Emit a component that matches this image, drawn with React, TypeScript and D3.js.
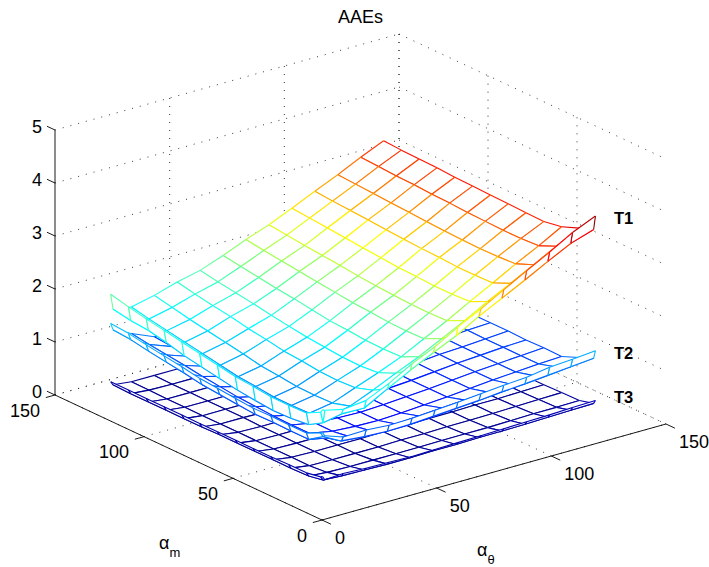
import React, { useEffect, useRef } from 'react';
import * as d3 from 'd3';

const width = 709;
const height = 567;

// grid of the three meshes
const xValues = [1, 2, 10, 20, 30, 40, 50, 60, 70, 80, 90, 100, 110, 120];
const yValues = [1, 2, 10, 20, 30, 40, 50, 60, 70, 80, 90, 100, 110, 120];

// rows follow yValues, columns follow xValues
const t1Rows = [
  [2.05, 2.03, 1.95, 2.0, 2.2, 2.45, 2.65, 2.9, 3.12, 3.36, 3.6, 3.83, 4.08, 4.27],
  [1.99, 1.78, 1.85, 1.84, 2.08, 2.31, 2.52, 2.72, 2.97, 3.19, 3.41, 3.64, 3.86, 4.0],
  [1.85, 1.62, 1.65, 1.75, 1.93, 2.13, 2.32, 2.54, 2.76, 3.0, 3.22, 3.45, 3.68, 3.9],
  [1.84, 1.58, 1.58, 1.65, 1.82, 1.98, 2.16, 2.38, 2.6, 2.84, 3.07, 3.31, 3.53, 3.77],
  [1.84, 1.57, 1.57, 1.64, 1.8, 1.95, 2.15, 2.37, 2.59, 2.82, 3.06, 3.29, 3.51, 3.71],
  [1.88, 1.6, 1.57, 1.65, 1.81, 1.96, 2.16, 2.38, 2.59, 2.82, 3.06, 3.28, 3.51, 3.72],
  [1.91, 1.64, 1.61, 1.69, 1.85, 1.99, 2.19, 2.41, 2.61, 2.84, 3.08, 3.29, 3.52, 3.73],
  [1.97, 1.7, 1.64, 1.72, 1.88, 2.02, 2.21, 2.43, 2.63, 2.85, 3.09, 3.3, 3.53, 3.74],
  [2.03, 1.76, 1.7, 1.79, 1.94, 2.07, 2.26, 2.47, 2.66, 2.88, 3.11, 3.32, 3.55, 3.75],
  [2.09, 1.82, 1.76, 1.85, 1.99, 2.12, 2.31, 2.51, 2.7, 2.91, 3.13, 3.34, 3.56, 3.76],
  [2.15, 1.91, 1.82, 1.91, 2.06, 2.18, 2.35, 2.55, 2.73, 2.94, 3.16, 3.36, 3.58, 3.78],
  [2.21, 1.98, 1.88, 1.97, 2.11, 2.23, 2.4, 2.59, 2.76, 2.97, 3.18, 3.38, 3.59, 3.79],
  [2.28, 2.01, 1.94, 2.04, 2.17, 2.28, 2.45, 2.63, 2.8, 3.0, 3.2, 3.4, 3.61, 3.8],
  [2.36, 2.07, 2.01, 2.11, 2.24, 2.34, 2.5, 2.68, 2.84, 3.03, 3.23, 3.42, 3.63, 3.82],
];

const t2Rows = [
  [1.62, 1.55, 1.43, 1.44, 1.41, 1.42, 1.45, 1.48, 1.52, 1.56, 1.59, 1.66, 1.69, 1.73],
  [1.6, 1.52, 1.34, 1.3, 1.28, 1.29, 1.32, 1.35, 1.38, 1.42, 1.45, 1.49, 1.53, 1.57],
  [1.47, 1.34, 1.27, 1.17, 1.15, 1.17, 1.2, 1.23, 1.26, 1.29, 1.32, 1.36, 1.4, 1.46],
  [1.47, 1.34, 1.2, 1.12, 1.09, 1.08, 1.1, 1.13, 1.16, 1.2, 1.24, 1.27, 1.3, 1.32],
  [1.48, 1.35, 1.2, 1.12, 1.09, 1.08, 1.1, 1.13, 1.16, 1.2, 1.24, 1.27, 1.3, 1.33],
  [1.47, 1.34, 1.21, 1.12, 1.09, 1.08, 1.1, 1.13, 1.16, 1.2, 1.24, 1.27, 1.3, 1.32],
  [1.5, 1.37, 1.23, 1.14, 1.1, 1.09, 1.11, 1.14, 1.17, 1.21, 1.25, 1.27, 1.3, 1.33],
  [1.53, 1.4, 1.25, 1.15, 1.12, 1.1, 1.12, 1.15, 1.18, 1.21, 1.25, 1.28, 1.31, 1.33],
  [1.56, 1.43, 1.29, 1.18, 1.14, 1.12, 1.14, 1.16, 1.19, 1.22, 1.26, 1.29, 1.31, 1.33],
  [1.62, 1.49, 1.33, 1.21, 1.16, 1.14, 1.15, 1.18, 1.2, 1.23, 1.27, 1.29, 1.32, 1.34],
  [1.67, 1.54, 1.38, 1.24, 1.18, 1.16, 1.17, 1.19, 1.22, 1.25, 1.27, 1.3, 1.32, 1.34],
  [1.72, 1.59, 1.42, 1.27, 1.2, 1.18, 1.18, 1.21, 1.23, 1.26, 1.28, 1.3, 1.33, 1.35],
  [1.78, 1.65, 1.46, 1.3, 1.22, 1.2, 1.2, 1.22, 1.24, 1.27, 1.29, 1.31, 1.33, 1.35],
  [1.81, 1.68, 1.51, 1.33, 1.25, 1.22, 1.22, 1.24, 1.26, 1.28, 1.3, 1.32, 1.34, 1.36],
];

const t3Rows = [
  [0.79, 0.72, 0.74, 0.72, 0.71, 0.7, 0.71, 0.72, 0.73, 0.74, 0.75, 0.76, 0.78, 0.79],
  [0.77, 0.7, 0.68, 0.67, 0.66, 0.66, 0.67, 0.67, 0.68, 0.68, 0.69, 0.7, 0.71, 0.72],
  [0.72, 0.65, 0.62, 0.61, 0.61, 0.61, 0.61, 0.62, 0.62, 0.62, 0.63, 0.64, 0.64, 0.65],
  [0.72, 0.64, 0.59, 0.58, 0.58, 0.58, 0.59, 0.59, 0.6, 0.6, 0.61, 0.62, 0.63, 0.64],
  [0.71, 0.64, 0.59, 0.58, 0.58, 0.58, 0.59, 0.59, 0.6, 0.6, 0.61, 0.61, 0.62, 0.63],
  [0.71, 0.64, 0.59, 0.58, 0.58, 0.58, 0.58, 0.59, 0.59, 0.6, 0.6, 0.61, 0.62, 0.63],
  [0.71, 0.64, 0.59, 0.58, 0.58, 0.58, 0.59, 0.59, 0.59, 0.6, 0.6, 0.61, 0.62, 0.63],
  [0.71, 0.64, 0.59, 0.58, 0.58, 0.59, 0.59, 0.59, 0.6, 0.6, 0.61, 0.61, 0.62, 0.63],
  [0.71, 0.63, 0.59, 0.59, 0.58, 0.59, 0.59, 0.59, 0.6, 0.6, 0.61, 0.61, 0.62, 0.63],
  [0.71, 0.63, 0.59, 0.59, 0.59, 0.59, 0.59, 0.6, 0.6, 0.6, 0.61, 0.61, 0.62, 0.63],
  [0.71, 0.63, 0.59, 0.59, 0.59, 0.59, 0.59, 0.6, 0.6, 0.6, 0.61, 0.61, 0.62, 0.63],
  [0.71, 0.63, 0.59, 0.59, 0.59, 0.59, 0.59, 0.6, 0.6, 0.6, 0.61, 0.61, 0.62, 0.63],
  [0.71, 0.63, 0.6, 0.59, 0.59, 0.59, 0.6, 0.6, 0.6, 0.61, 0.61, 0.62, 0.62, 0.63],
  [0.71, 0.64, 0.6, 0.6, 0.6, 0.6, 0.6, 0.6, 0.61, 0.61, 0.62, 0.62, 0.63, 0.63],
];

const surfaces = [t3Rows, t2Rows, t1Rows];

const xyTicks = [0, 50, 100, 150];
const zTicks = [0, 1, 2, 3, 4, 5];
const surfaceLabels = ['T1', 'T2', 'T3'];

const jetStops = [0, 0.125, 0.375, 0.625, 0.875, 1];
const jetColors = ['#00008f', '#0000ff', '#00ffff', '#ffff00', '#ff0000', '#800000'];

const font = '"Liberation Sans", Arial, sans-serif';

export default function App() {
  const svgRef = useRef<SVGSVGElement>(null);

  useEffect(() => {
    const svg = d3.select(svgRef.current);
    svg.selectAll('*').remove();

    // oblique projection
    const xToSx = d3.scaleLinear().domain([0, 150]).range([0, 344]);
    const xToSy = d3.scaleLinear().domain([0, 150]).range([0, -96]);
    const yToSx = d3.scaleLinear().domain([0, 150]).range([0, -267]);
    const yToSy = d3.scaleLinear().domain([0, 150]).range([0, -125]);
    const zToSy = d3.scaleLinear().domain([0, 5]).range([0, -265]);
    const project = (x: number, y: number, z: number): [number, number] => [
      322 + xToSx(x) + yToSx(y),
      520 + xToSy(x) + yToSy(y) + zToSy(z),
    ];

    const jet = d3
      .scaleLinear<string>()
      .domain(jetStops.map((t) => 0.6 + t * 3.7))
      .range(jetColors)
      .clamp(true);

    const line = d3.line();
    const seg = (a: [number, number, number], b: [number, number, number]) =>
      line([project(a[0], a[1], a[2]), project(b[0], b[1], b[2])]);

    // dotted grid on floor and back walls
    const grid = svg
      .append('g')
      .attr('fill', 'none')
      .attr('stroke', '#222')
      .attr('stroke-width', 0.9)
      .attr('stroke-dasharray', '1 7');
    const gridLines: [number, number, number][][] = [];
    xyTicks.forEach((t) => {
      gridLines.push([[t, 0, 0], [t, 150, 0]]);
      gridLines.push([[0, t, 0], [150, t, 0]]);
      if (t > 0) gridLines.push([[t, 150, 0], [t, 150, 5]]);
      if (t > 0) gridLines.push([[150, t, 0], [150, t, 5]]);
    });
    zTicks.forEach((t) => {
      gridLines.push([[0, 150, t], [150, 150, t]]);
      gridLines.push([[150, 150, t], [150, 0, t]]);
    });
    grid
      .selectAll('path')
      .data(gridLines)
      .enter()
      .append('path')
      .attr('d', (d) => seg(d[0], d[1]));

    // axis lines and ticks
    const axes = svg.append('g').attr('fill', 'none').attr('stroke', '#000').attr('stroke-width', 0.9);
    const axisLines: [number, number, number][][] = [
      [[0, 0, 0], [150, 0, 0]],
      [[0, 0, 0], [0, 150, 0]],
      [[0, 150, 0], [0, 150, 5]],
    ];
    xyTicks.forEach((t) => {
      axisLines.push([[t, 0, 0], [t, -5, 0]]);
      axisLines.push([[0, t, 0], [-4, t, 0]]);
    });
    zTicks.forEach((t) => {
      axisLines.push([[0, 150, t], [0, 154.5, t]]);
    });
    axes
      .selectAll('path')
      .data(axisLines)
      .enter()
      .append('path')
      .attr('d', (d) => seg(d[0], d[1]));

    // meshes, bottom one first, quads painted far to near
    surfaces.forEach((rows) => {
      const g = svg.append('g').attr('stroke-width', 1.1).attr('stroke-linejoin', 'round');
      for (let j = yValues.length - 2; j >= 0; j--) {
        for (let i = xValues.length - 2; i >= 0; i--) {
          const c00: [number, number, number] = [xValues[i], yValues[j], rows[j][i]];
          const c10: [number, number, number] = [xValues[i + 1], yValues[j], rows[j][i + 1]];
          const c11: [number, number, number] = [xValues[i + 1], yValues[j + 1], rows[j + 1][i + 1]];
          const c01: [number, number, number] = [xValues[i], yValues[j + 1], rows[j + 1][i]];
          g.append('path')
            .attr('d', line([c00, c10, c11, c01].map((c) => project(c[0], c[1], c[2]))) + 'Z')
            .attr('fill', '#fff')
            .attr('stroke', 'none');
          // each edge takes the colour of its first vertex
          [[c00, c10], [c10, c11], [c01, c11], [c00, c01]].forEach(([a, b]) => {
            g.append('path')
              .attr('d', seg(a, b))
              .attr('fill', 'none')
              .attr('stroke', jet(a[2]));
          });
        }
      }
    });

    const text = svg.append('g').attr('font-family', font).attr('fill', '#000');

    text
      .append('text')
      .attr('x', 360.5)
      .attr('y', 23)
      .attr('text-anchor', 'middle')
      .attr('font-size', 18)
      .text('AAEs');

    zTicks.forEach((t) => {
      const [sx, sy] = project(0, 150, t);
      text
        .append('text')
        .attr('x', sx - 13)
        .attr('y', sy + 2.5)
        .attr('text-anchor', 'end')
        .attr('font-size', 18)
        .text(t);
    });
    xyTicks.forEach((t) => {
      const [xx, xy] = project(t, 0, 0);
      text
        .append('text')
        .attr('x', xx + 13)
        .attr('y', xy + 23.5)
        .attr('font-size', 18)
        .text(t);
      const [yx, yy] = project(0, t, 0);
      text
        .append('text')
        .attr('x', yx - 15)
        .attr('y', yy + 21.5)
        .attr('text-anchor', 'end')
        .attr('font-size', 18)
        .text(t);
    });

    const labelY = [224, 359, 403];
    surfaceLabels.forEach((d, i) => {
      text
        .append('text')
        .attr('x', 614)
        .attr('y', labelY[i])
        .attr('font-size', 16.5)
        .attr('font-weight', 'bold')
        .text(d);
    });

    // axis names with their subscripts
    const subLabel = (x: number, y: number, sub: string) => {
      const t = text.append('text').attr('x', x).attr('y', y).attr('font-size', 18);
      t.append('tspan').text('α');
      t.append('tspan').attr('dy', 8).attr('font-size', 13).text(sub);
    };
    subLabel(159, 549, 'm');
    subLabel(477, 556, 'θ');
  }, []);

  return (
    <svg
      ref={svgRef}
      width={width}
      height={height}
      style={{ position: 'absolute', left: 0, top: 0, background: '#fff' }}
    />
  );
}
